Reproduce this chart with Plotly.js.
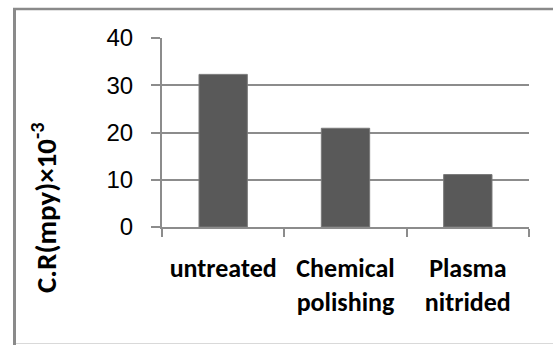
<!DOCTYPE html>
<html>
<head>
<meta charset="utf-8">
<script src="https://cdn.plot.ly/plotly-3.0.1.min.js"></script>
<style>
html,body{margin:0;padding:0;background:#fff;}
#chart{width:553px;height:345px;}
</style>
</head>
<body>
<div id="chart"></div>
<script>
const categories = ["untreated", "Chemical polishing", "Plasma nitrided"];
const tickLabels = ["untreated", "Chemical<br>polishing", "Plasma<br>nitrided"];
const corrosionRate = [32.3, 20.9, 11.1];
const yTicks = [0, 10, 20, 30, 40];
const yTitle = "C.R(mpy)×10<sup>-3</sup>";

const gridCol = "#8c8c8c";
const L = 162, R = 24, T = 38, B = 118, W = 553, H = 345;
const pw = W - L - R, ph = H - T - B;
const px2x = p => (p - L) / pw;
const py2y = p => (H - B - p) / ph;

const trace = {
  type: "bar",
  x: categories,
  y: corrosionRate,
  marker: {color: "#595959", line: {color: "#7a7a7a", width: 1}},
  width: 0.395,
  hoverinfo: "skip"
};

const layout = {
  width: W, height: H,
  margin: {l: L, r: R, t: T, b: B, pad: 0},
  paper_bgcolor: "#ffffff",
  plot_bgcolor: "#ffffff",
  showlegend: false,
  xaxis: {
    type: "category",
    tickvals: categories,
    ticktext: tickLabels,
    tickson: "boundaries",
    ticks: "outside",
    ticklen: 8,
    tickwidth: 2,
    tickcolor: gridCol,
    showline: true,
    linecolor: gridCol,
    linewidth: 2,
    showgrid: false,
    ticklabelstandoff: 17,
    tickfont: {family: "Carlito, Lato, sans-serif", size: 26, color: "#000", weight: "bold"}
  },
  yaxis: {
    range: [0, 40],
    tickvals: yTicks,
    ticks: "outside",
    ticklen: 9,
    tickwidth: 2,
    tickcolor: gridCol,
    showline: true,
    linecolor: gridCol,
    linewidth: 2,
    showgrid: true,
    gridcolor: gridCol,
    gridwidth: 2,
    zeroline: false,
    ticklabelstandoff: 13,
    tickfont: {family: "Liberation Sans, Arial, sans-serif", size: 24, color: "#000"}
  },
  annotations: [{
    text: yTitle,
    xref: "paper", yref: "paper",
    x: px2x(44), y: py2y(208),
    xanchor: "center", yanchor: "middle",
    textangle: -90,
    showarrow: false,
    font: {family: "Carlito, Lato, sans-serif", size: 29, color: "#000", weight: "bold"}
  }],
  shapes: [
    {type: "line", xref: "paper", yref: "paper", x0: px2x(14.5), x1: px2x(14.5), y0: py2y(345), y1: py2y(8), line: {color: "#8a8a8a", width: 3}},
    {type: "line", xref: "paper", yref: "paper", x0: px2x(13), x1: px2x(560), y0: py2y(9), y1: py2y(9), line: {color: "#8a8a8a", width: 2.5}},
    {type: "line", xref: "paper", yref: "paper", x0: px2x(16), x1: px2x(560), y0: py2y(343.5), y1: py2y(343.5), line: {color: "#d9d9d9", width: 1}}
  ]
};

Plotly.newPlot("chart", [trace], layout, {displayModeBar: false, staticPlot: true});
</script>
</body>
</html>
